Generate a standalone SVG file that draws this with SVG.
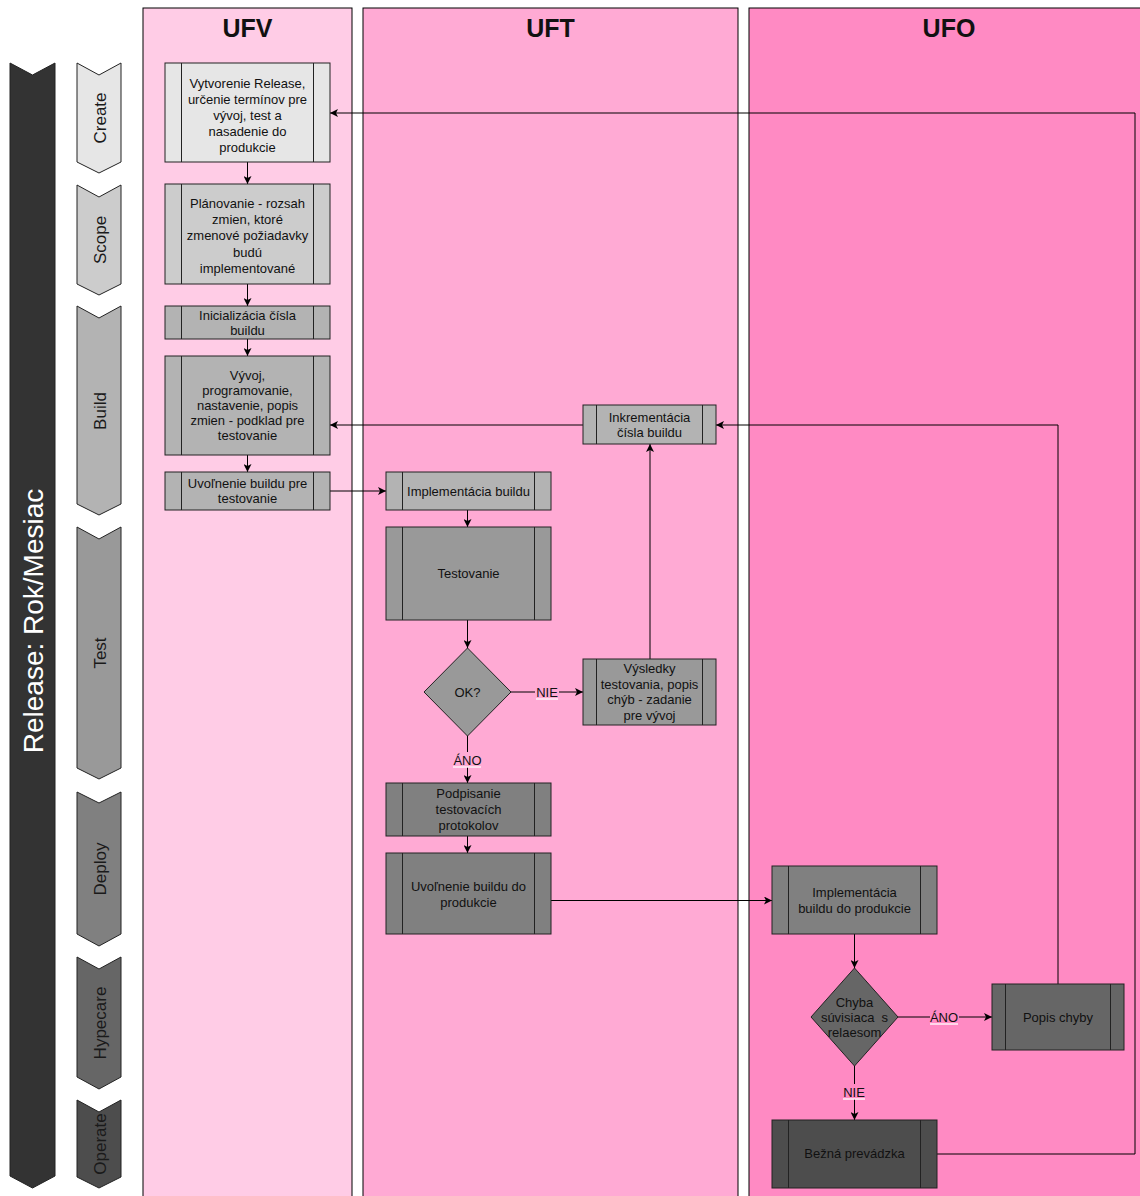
<svg xmlns="http://www.w3.org/2000/svg" width="1140" height="1196" viewBox="0 0 1140 1196">
  <style>
    text { font-family: "Liberation Sans", Arial, Helvetica, sans-serif; fill: #111; }
    .lane { stroke: #000; stroke-width: 1; }
    .head { font-size: 25px; font-weight: bold; text-anchor: middle; }
    .phase { stroke: #222; stroke-width: 1; }
    .plabel { font-size: 17px; text-anchor: middle; fill: #1a1a1a; }
    .box { stroke: #222; stroke-width: 1; }
    .bar { stroke: #222; stroke-width: 1; fill: none; }
    .t { font-size: 13px; text-anchor: middle; }
    .edge { stroke: #000; stroke-width: 1; fill: none; }
    .lbl { font-size: 13px; text-anchor: middle; }
    .c1 { fill: #e6e6e6; }
    .c2 { fill: #cccccc; }
    .c3 { fill: #b3b3b3; }
    .c4 { fill: #999999; }
    .c5 { fill: #808080; }
    .c6 { fill: #666666; }
    .c7 { fill: #4d4d4d; }
  </style>
  <defs>
    <marker id="arrow" viewBox="0 0 10 10" refX="10" refY="5" markerWidth="9" markerHeight="8" markerUnits="userSpaceOnUse" orient="auto">
      <path d="M0,0 L10,5 L0,10 L2.5,5 Z" fill="#000"/>
    </marker>
  </defs>

  <rect width="1140" height="1196" fill="#fff"/>

  <!-- swimlanes -->
  <g id="lane-ufv">
    <rect class="lane" x="143" y="8" width="209" height="1200" fill="#ffcce6"/>
    <text class="head" x="247.5" y="37">UFV</text>
  </g>
  <g id="lane-uft">
    <rect class="lane" x="363" y="8" width="375" height="1200" fill="#ffaad4"/>
    <text class="head" x="550.5" y="37">UFT</text>
  </g>
  <g id="lane-ufo">
    <rect class="lane" x="749" y="8" width="400" height="1200" fill="#ff8ac3"/>
    <text class="head" x="949" y="37">UFO</text>
  </g>

  <!-- release bar and phases -->
  <g id="release">
    <path class="phase" d="M10,63 L32.5,75 L55,63 L55,1176 L32.5,1188 L10,1176 Z" fill="#333333"/>
    <text transform="translate(43,621) rotate(-90)" font-size="28" text-anchor="middle" style="fill:#fff">Release: Rok/Mesiac</text>
  </g>
  <g id="phase-create">
    <path class="phase c1" d="M77,63 L99,75 L121,63 L121,162 L99,173 L77,162 Z"/>
    <text class="plabel" transform="translate(106,118) rotate(-90)">Create</text>
  </g>
  <g id="phase-scope">
    <path class="phase c2" d="M77,185 L99,197 L121,185 L121,284 L99,295 L77,284 Z"/>
    <text class="plabel" transform="translate(106,240) rotate(-90)">Scope</text>
  </g>
  <g id="phase-build">
    <path class="phase c3" d="M77,306 L99,318 L121,306 L121,504 L99,515 L77,504 Z"/>
    <text class="plabel" transform="translate(106,411) rotate(-90)">Build</text>
  </g>
  <g id="phase-test">
    <path class="phase c4" d="M77,527 L99,539 L121,527 L121,768 L99,779 L77,768 Z"/>
    <text class="plabel" transform="translate(106,653) rotate(-90)">Test</text>
  </g>
  <g id="phase-deploy">
    <path class="phase c5" d="M77,792 L99,803 L121,792 L121,934 L99,946 L77,934 Z"/>
    <text class="plabel" transform="translate(106,869) rotate(-90)">Deploy</text>
  </g>
  <g id="phase-hypecare">
    <path class="phase c6" d="M77,957 L99,969 L121,957 L121,1077 L99,1089 L77,1077 Z"/>
    <text class="plabel" transform="translate(106,1023) rotate(-90)">Hypecare</text>
  </g>
  <g id="phase-operate">
    <path class="phase c7" d="M77,1100 L99,1112 L121,1100 L121,1177 L99,1188 L77,1177 Z"/>
    <text class="plabel" transform="translate(106,1144) rotate(-90)">Operate</text>
  </g>

  <!-- connectors -->
  <g id="connectors">
    <path class="edge" d="M247.5,162 L247.5,184" marker-end="url(#arrow)"/>
    <path class="edge" d="M247.5,284 L247.5,306" marker-end="url(#arrow)"/>
    <path class="edge" d="M247.5,339 L247.5,356" marker-end="url(#arrow)"/>
    <path class="edge" d="M247.5,455 L247.5,472" marker-end="url(#arrow)"/>
    <path class="edge" d="M330,491 L386,491" stroke="#444" marker-end="url(#arrow)"/>
    <path class="edge" d="M467.5,510 L467.5,527" marker-end="url(#arrow)"/>
    <path class="edge" d="M467.5,620 L467.5,648" marker-end="url(#arrow)"/>
    <path class="edge" d="M511,692 L583,692" marker-end="url(#arrow)"/>
    <path class="edge" d="M467.5,736 L467.5,783" marker-end="url(#arrow)"/>
    <path class="edge" d="M650,659 L650,444" marker-end="url(#arrow)"/>
    <path class="edge" d="M583,425 L330,425" marker-end="url(#arrow)"/>
    <path class="edge" d="M467.5,836 L467.5,853" marker-end="url(#arrow)"/>
    <path class="edge" d="M551,900.5 L772,900.5" marker-end="url(#arrow)"/>
    <path class="edge" d="M854.5,934 L854.5,968" marker-end="url(#arrow)"/>
    <path class="edge" d="M898,1017 L992,1017" marker-end="url(#arrow)"/>
    <path class="edge" d="M854.5,1066 L854.5,1120" marker-end="url(#arrow)"/>
    <path class="edge" d="M1058,984 L1058,425 L716,425" marker-end="url(#arrow)"/>
    <path class="edge" d="M937,1154 L1135,1154 L1135,113 L330,113" marker-end="url(#arrow)"/>

    <!-- edge labels -->
    <rect x="535" y="684" width="24" height="15" fill="#ffaad4"/>
    <line x1="536" y1="699" x2="558" y2="699" stroke="#fff0f7" stroke-width="1.5"/>
    <text class="lbl" x="547" y="696.5">NIE</text>
    <rect x="453" y="752" width="29" height="15" fill="#ffaad4"/>
    <line x1="453" y1="767" x2="481" y2="767" stroke="#fff0f7" stroke-width="1.5"/>
    <text class="lbl" x="467.5" y="764.5">ÁNO</text>
    <rect x="930" y="1009" width="29" height="15" fill="#ff8ac3"/>
    <line x1="930" y1="1024" x2="958" y2="1024" stroke="#fff0f7" stroke-width="1.5"/>
    <text class="lbl" x="944" y="1021.5">ÁNO</text>
    <rect x="842" y="1084" width="24" height="15" fill="#ff8ac3"/>
    <line x1="843" y1="1099" x2="865" y2="1099" stroke="#fff0f7" stroke-width="1.5"/>
    <text class="lbl" x="854" y="1096.5">NIE</text>
  </g>

  <!-- UFV process steps -->
  <g id="n-create">
    <rect class="box c1" x="165" y="63" width="165" height="99"/>
    <path class="bar" d="M181.5,63 V162 M313.5,63 V162"/>
    <text class="t" x="247.5" y="88">Vytvorenie Release,</text>
    <text class="t" x="247.5" y="104">určenie termínov pre</text>
    <text class="t" x="247.5" y="120">vývoj, test a</text>
    <text class="t" x="247.5" y="136">nasadenie do</text>
    <text class="t" x="247.5" y="152">produkcie</text>
  </g>
  <g id="n-scope">
    <rect class="box c2" x="165" y="184" width="165" height="100"/>
    <path class="bar" d="M181.5,184 V284 M313.5,184 V284"/>
    <text class="t" x="247.5" y="207.5">Plánovanie - rozsah</text>
    <text class="t" x="247.5" y="223.5">zmien, ktoré</text>
    <text class="t" x="247.5" y="240">zmenové požiadavky</text>
    <text class="t" x="247.5" y="256.5">budú</text>
    <text class="t" x="247.5" y="273">implementované</text>
  </g>
  <g id="n-init">
    <rect class="box c3" x="165" y="306" width="165" height="33"/>
    <path class="bar" d="M181.5,306 V339 M313.5,306 V339"/>
    <text class="t" x="247.5" y="319.5">Inicializácia čísla</text>
    <text class="t" x="247.5" y="334.5">buildu</text>
  </g>
  <g id="n-dev">
    <rect class="box c3" x="165" y="356" width="165" height="99"/>
    <path class="bar" d="M181.5,356 V455 M313.5,356 V455"/>
    <text class="t" x="247.5" y="379.5">Vývoj,</text>
    <text class="t" x="247.5" y="394.5">programovanie,</text>
    <text class="t" x="247.5" y="409.5">nastavenie, popis</text>
    <text class="t" x="247.5" y="424.5">zmien - podklad pre</text>
    <text class="t" x="247.5" y="440">testovanie</text>
  </g>
  <g id="n-release-test">
    <rect class="box c3" x="165" y="472" width="165" height="38"/>
    <path class="bar" d="M181.5,472 V510 M313.5,472 V510"/>
    <text class="t" x="247.5" y="487.5">Uvoľnenie buildu pre</text>
    <text class="t" x="247.5" y="502.5">testovanie</text>
  </g>

  <!-- UFT process steps -->
  <g id="n-increment">
    <rect class="box c3" x="583" y="405" width="133" height="39"/>
    <path class="bar" d="M596.5,405 V444 M702.5,405 V444"/>
    <text class="t" x="649.5" y="421.5">Inkrementácia</text>
    <text class="t" x="649.5" y="436.5">čísla buildu</text>
  </g>
  <g id="n-impl">
    <rect class="box c3" x="386" y="472" width="165" height="38"/>
    <path class="bar" d="M402.5,472 V510 M534.5,472 V510"/>
    <text class="t" x="468.5" y="495.5">Implementácia buildu</text>
  </g>
  <g id="n-testing">
    <rect class="box c4" x="386" y="527" width="165" height="93"/>
    <path class="bar" d="M402.5,527 V620 M534.5,527 V620"/>
    <text class="t" x="468.5" y="578">Testovanie</text>
  </g>
  <g id="n-ok">
    <path class="box c4" d="M467.5,648 L511,692 L467.5,736 L424,692 Z"/>
    <text class="t" x="467.5" y="696.5">OK?</text>
  </g>
  <g id="n-results">
    <rect class="box c4" x="583" y="659" width="133" height="66"/>
    <path class="bar" d="M596.5,659 V725 M702.5,659 V725"/>
    <text class="t" x="649.5" y="672.5">Výsledky</text>
    <text class="t" x="649.5" y="688.5">testovania, popis</text>
    <text class="t" x="649.5" y="704">chýb - zadanie</text>
    <text class="t" x="649.5" y="719.5">pre vývoj</text>
  </g>
  <g id="n-sign">
    <rect class="box c5" x="386" y="783" width="165" height="53"/>
    <path class="bar" d="M402.5,783 V836 M534.5,783 V836"/>
    <text class="t" x="468.5" y="797.5">Podpisanie</text>
    <text class="t" x="468.5" y="813.5">testovacích</text>
    <text class="t" x="468.5" y="829.5">protokolov</text>
  </g>
  <g id="n-release-prod">
    <rect class="box c5" x="386" y="853" width="165" height="81"/>
    <path class="bar" d="M402.5,853 V934 M534.5,853 V934"/>
    <text class="t" x="468.5" y="890.5">Uvoľnenie buildu do</text>
    <text class="t" x="468.5" y="906.5">produkcie</text>
  </g>

  <!-- UFO process steps -->
  <g id="n-impl-prod">
    <rect class="box c5" x="772" y="866" width="165" height="68"/>
    <path class="bar" d="M788.5,866 V934 M920.5,866 V934"/>
    <text class="t" x="854.5" y="896.5">Implementácia</text>
    <text class="t" x="854.5" y="912.5">buildu do produkcie</text>
  </g>
  <g id="n-bug-check">
    <path class="box c6" d="M854.5,968 L898,1017 L854.5,1066 L811,1017 Z"/>
    <text class="t" x="854.5" y="1006.5">Chyba</text>
    <text class="t" x="854.5" y="1021.5" xml:space="preserve">súvisiaca  s</text>
    <text class="t" x="854.5" y="1036.5">relaesom</text>
  </g>
  <g id="n-bug">
    <rect class="box c6" x="992" y="984" width="132" height="66"/>
    <path class="bar" d="M1005.5,984 V1050 M1110.5,984 V1050"/>
    <text class="t" x="1058" y="1021.5">Popis chyby</text>
  </g>
  <g id="n-operate">
    <rect class="box c7" x="772" y="1120" width="165" height="68"/>
    <path class="bar" d="M788.5,1120 V1188 M920.5,1120 V1188"/>
    <text class="t" x="854.5" y="1157.5">Bežná prevádzka</text>
  </g>
</svg>
